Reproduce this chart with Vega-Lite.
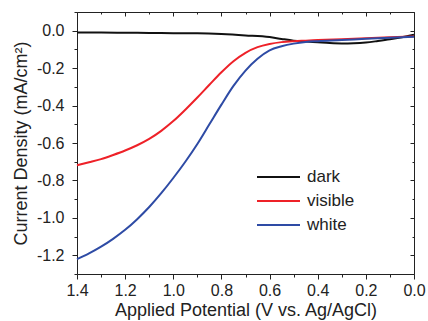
{
  "$schema": "https://vega.github.io/schema/vega-lite/v6.json",
  "autosize": "none",
  "padding": {"left": 77, "top": 12, "right": 14, "bottom": 47},
  "width": 337,
  "height": 262,
  "config": {
    "font": "Liberation Sans",
    "view": {"stroke": null},
    "axis": {
      "domainColor": "#222",
      "tickColor": "#222",
      "labelColor": "#222",
      "titleColor": "#222",
      "labelFont": "Liberation Sans",
      "titleFont": "Liberation Sans",
      "labelFontSize": 16,
      "titleFontSize": 18,
      "titleFontWeight": "normal",
      "grid": false,
      "domainWidth": 1,
      "tickWidth": 1
    }
  },
  "data": {
    "values": [
      {"V": 1.40, "J": -0.010, "s": "dark"},
      {"V": 1.30, "J": -0.010, "s": "dark"},
      {"V": 1.20, "J": -0.011, "s": "dark"},
      {"V": 1.10, "J": -0.012, "s": "dark"},
      {"V": 1.00, "J": -0.013, "s": "dark"},
      {"V": 0.90, "J": -0.014, "s": "dark"},
      {"V": 0.80, "J": -0.018, "s": "dark"},
      {"V": 0.70, "J": -0.025, "s": "dark"},
      {"V": 0.60, "J": -0.034, "s": "dark"},
      {"V": 0.55, "J": -0.044, "s": "dark"},
      {"V": 0.50, "J": -0.053, "s": "dark"},
      {"V": 0.45, "J": -0.058, "s": "dark"},
      {"V": 0.40, "J": -0.062, "s": "dark"},
      {"V": 0.35, "J": -0.066, "s": "dark"},
      {"V": 0.30, "J": -0.068, "s": "dark"},
      {"V": 0.25, "J": -0.067, "s": "dark"},
      {"V": 0.20, "J": -0.063, "s": "dark"},
      {"V": 0.15, "J": -0.055, "s": "dark"},
      {"V": 0.10, "J": -0.046, "s": "dark"},
      {"V": 0.05, "J": -0.035, "s": "dark"},
      {"V": 0.00, "J": -0.022, "s": "dark"},

      {"V": 1.40, "J": -0.719, "s": "visible"},
      {"V": 1.35, "J": -0.703, "s": "visible"},
      {"V": 1.30, "J": -0.686, "s": "visible"},
      {"V": 1.25, "J": -0.664, "s": "visible"},
      {"V": 1.20, "J": -0.640, "s": "visible"},
      {"V": 1.15, "J": -0.612, "s": "visible"},
      {"V": 1.10, "J": -0.578, "s": "visible"},
      {"V": 1.05, "J": -0.535, "s": "visible"},
      {"V": 1.00, "J": -0.483, "s": "visible"},
      {"V": 0.95, "J": -0.422, "s": "visible"},
      {"V": 0.90, "J": -0.357, "s": "visible"},
      {"V": 0.85, "J": -0.289, "s": "visible"},
      {"V": 0.80, "J": -0.222, "s": "visible"},
      {"V": 0.75, "J": -0.163, "s": "visible"},
      {"V": 0.70, "J": -0.118, "s": "visible"},
      {"V": 0.65, "J": -0.088, "s": "visible"},
      {"V": 0.60, "J": -0.071, "s": "visible"},
      {"V": 0.55, "J": -0.061, "s": "visible"},
      {"V": 0.50, "J": -0.056, "s": "visible"},
      {"V": 0.45, "J": -0.053, "s": "visible"},
      {"V": 0.40, "J": -0.050, "s": "visible"},
      {"V": 0.30, "J": -0.045, "s": "visible"},
      {"V": 0.20, "J": -0.040, "s": "visible"},
      {"V": 0.10, "J": -0.035, "s": "visible"},
      {"V": 0.00, "J": -0.030, "s": "visible"},

      {"V": 1.40, "J": -1.221, "s": "white"},
      {"V": 1.35, "J": -1.190, "s": "white"},
      {"V": 1.30, "J": -1.154, "s": "white"},
      {"V": 1.25, "J": -1.112, "s": "white"},
      {"V": 1.20, "J": -1.064, "s": "white"},
      {"V": 1.15, "J": -1.007, "s": "white"},
      {"V": 1.10, "J": -0.942, "s": "white"},
      {"V": 1.05, "J": -0.868, "s": "white"},
      {"V": 1.00, "J": -0.787, "s": "white"},
      {"V": 0.95, "J": -0.700, "s": "white"},
      {"V": 0.90, "J": -0.605, "s": "white"},
      {"V": 0.85, "J": -0.500, "s": "white"},
      {"V": 0.80, "J": -0.395, "s": "white"},
      {"V": 0.75, "J": -0.295, "s": "white"},
      {"V": 0.70, "J": -0.213, "s": "white"},
      {"V": 0.65, "J": -0.150, "s": "white"},
      {"V": 0.60, "J": -0.105, "s": "white"},
      {"V": 0.55, "J": -0.083, "s": "white"},
      {"V": 0.50, "J": -0.069, "s": "white"},
      {"V": 0.45, "J": -0.060, "s": "white"},
      {"V": 0.40, "J": -0.056, "s": "white"},
      {"V": 0.30, "J": -0.050, "s": "white"},
      {"V": 0.20, "J": -0.043, "s": "white"},
      {"V": 0.10, "J": -0.037, "s": "white"},
      {"V": 0.00, "J": -0.032, "s": "white"}
    ]
  },
  "layer": [
    {
      "mark": {"type": "line", "strokeWidth": 2, "interpolate": "monotone"},
      "encoding": {
        "x": {
          "field": "V", "type": "quantitative",
          "scale": {"domain": [0, 1.4], "reverse": true, "nice": false, "zero": false},
          "axis": {
            "orient": "bottom",
            "title": "Applied Potential (V vs. Ag/AgCl)",
            "values": [0, 0.1, 0.2, 0.3, 0.4, 0.5, 0.6, 0.7, 0.8, 0.9, 1.0, 1.1, 1.2, 1.3, 1.4],
            "labelExpr": "round(datum.value*10) % 2 == 1 ? '' : format(datum.value, '.1f')",
            "tickSize": {"condition": {"test": "round(datum.value*10) % 2 == 1", "value": 3}, "value": 5},
            "labelPadding": 3,
            "labelFlush": false,
            "labelOverlap": false,
            "titlePadding": 3
          }
        },
        "y": {
          "field": "J", "type": "quantitative",
          "scale": {"domain": [-1.3, 0.1], "nice": false, "zero": false},
          "axis": {
            "orient": "left",
            "title": "Current Density (mA/cm²)",
            "values": [-1.3, -1.2, -1.1, -1.0, -0.9, -0.8, -0.7, -0.6, -0.5, -0.4, -0.3, -0.2, -0.1, 0.0, 0.1],
            "labelExpr": "abs(round(datum.value*10)) % 2 == 1 ? '' : replace(format(datum.value, '.1f'), '\u2212', '-')",
            "tickSize": {"condition": {"test": "abs(round(datum.value*10)) % 2 == 1", "value": 3}, "value": 5},
            "labelPadding": 8,
            "labelFlush": false,
            "labelOverlap": false,
            "titlePadding": 6
          }
        },
        "color": {
          "field": "s", "type": "nominal",
          "scale": {"domain": ["dark", "visible", "white"], "range": ["#111111", "#ee2128", "#2e4ba5"]},
          "legend": {
            "title": null,
            "orient": "none",
            "legendX": 179,
            "legendY": 157,
            "symbolType": "stroke",
            "symbolSize": 1849,
            "symbolStrokeWidth": 2,
            "labelFontSize": 17,
            "labelFont": "Liberation Sans",
            "labelColor": "#222",
            "labelOffset": 6,
            "clipHeight": 16,
            "rowPadding": 7,
            "padding": 0
          }
        }
      }
    },
    {
      "mark": {"type": "line", "strokeOpacity": 0},
      "encoding": {
        "x": {
          "field": "V", "type": "quantitative",
          "axis": {
            "orient": "top", "title": null, "labels": false,
            "values": [0, 0.1, 0.2, 0.3, 0.4, 0.5, 0.6, 0.7, 0.8, 0.9, 1.0, 1.1, 1.2, 1.3, 1.4],
            "tickSize": {"condition": {"test": "round(datum.value*10) % 2 == 1", "value": -2}, "value": -4}
          }
        },
        "y": {
          "field": "J", "type": "quantitative",
          "axis": {
            "orient": "right", "title": null, "labels": false,
            "values": [-1.3, -1.2, -1.1, -1.0, -0.9, -0.8, -0.7, -0.6, -0.5, -0.4, -0.3, -0.2, -0.1, 0.0, 0.1],
            "tickSize": {"condition": {"test": "abs(round(datum.value*10)) % 2 == 1", "value": -2}, "value": -4}
          }
        },
        "detail": {"field": "s", "type": "nominal"}
      }
    }
  ],
  "resolve": {"axis": {"x": "independent", "y": "independent"}}
}
